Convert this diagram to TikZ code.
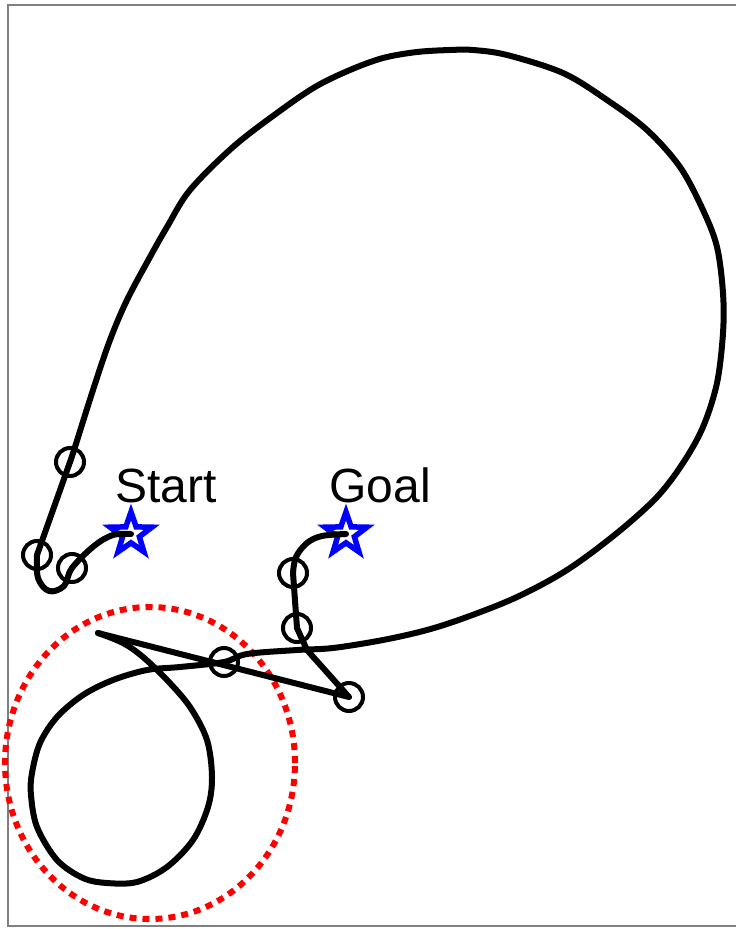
\documentclass[tikz,border=0pt]{standalone}
\usepackage{fontspec}
\newfontfamily\labelfont{Liberation Sans}
\usetikzlibrary{shapes.geometric}
\begin{document}
\begin{tikzpicture}[x=1pt, y=-1pt,
  waypoint/.style={circle, draw, line width=4pt, minimum size=28pt, inner sep=0pt},
  endstar/.style={star, star points=5, star point ratio=2.5, minimum size=44pt, inner sep=0pt, draw=blue, line width=5.5pt},
  trail/.style={line width=6pt, line join=round, line cap=round},
  tag/.style={font=\labelfont\fontsize{48}{48}\selectfont, inner sep=0pt, anchor=base}]
\useasboundingbox (0,0) rectangle (736,929);
\draw[gray, line width=1.5pt] (736,5) -- (8,5) -- (8,926) -- (736,926);
% start and goal
\node[endstar] (S) at (131,534) {};
\node[endstar] (G) at (346,534) {};
\node[tag] (startlabel) at (166,502) {Start};
\node[tag] (goallabel) at (380,502) {Goal};
% waypoints
\node[waypoint] (w1) at (70,462) {};
\node[waypoint] (w2) at (37,555) {};
\node[waypoint] (w3) at (72,568) {};
\node[waypoint] (w4) at (224,662) {};
\node[waypoint] (w5) at (349,697) {};
\node[waypoint] (w6) at (297,628) {};
\node[waypoint] (w7) at (293,573) {};
\coordinate (tip) at (98,633);
\coordinate (knee) at (307,650);
% danger zone
\draw[red, line width=6pt, dash pattern=on 7pt off 6pt] (150,763) ellipse [x radius=145pt, y radius=156pt];
% trajectory
\draw[trail] plot[smooth, tension=0.6] coordinates {(S.center) (113,535) (94,546) (w3.center) (64,586) (49,591) (38,578) (w2.center)};
\draw[trail] (w2.center) -- (w1.center);
\draw[trail] plot[smooth, tension=0.55] coordinates {(w1.center) (75,447) (93,390) (110,340) (127,300) (150,257)
  (167,227) (190,190) (233,147) (277,113) (315,87) (350,70) (383,58) (417,52) (450,50) (473,50) (507,55)
  (563,73) (607,100) (647,130) (680,167) (703,210) (717,247) (723,293) (723,333) (717,383) (703,427)
  (683,463) (657,497) (617,533) (567,570) (517,597) (467,617) (427,630) (383,640) (333,648) (297,650)
  (247,654) (w4.center) (180,667) (147,670) (113,680) (83,695) (57,717) (40,743) (32,773) (31,795)
  (37,827) (57,860) (83,878) (107,883) (137,882) (167,867) (193,840) (208,807) (212,777) (207,740)
  (190,707) (167,680) (143,657) (123,643) (tip)};
\draw[trail] (tip) -- (w5.center) -- (knee) -- (w6.center) -- (w7.center);
\draw[trail] plot[smooth, tension=0.6] coordinates {(w7.center) (296,557) (307,543) (322,536) (G.center)};
\end{tikzpicture}
\end{document}
